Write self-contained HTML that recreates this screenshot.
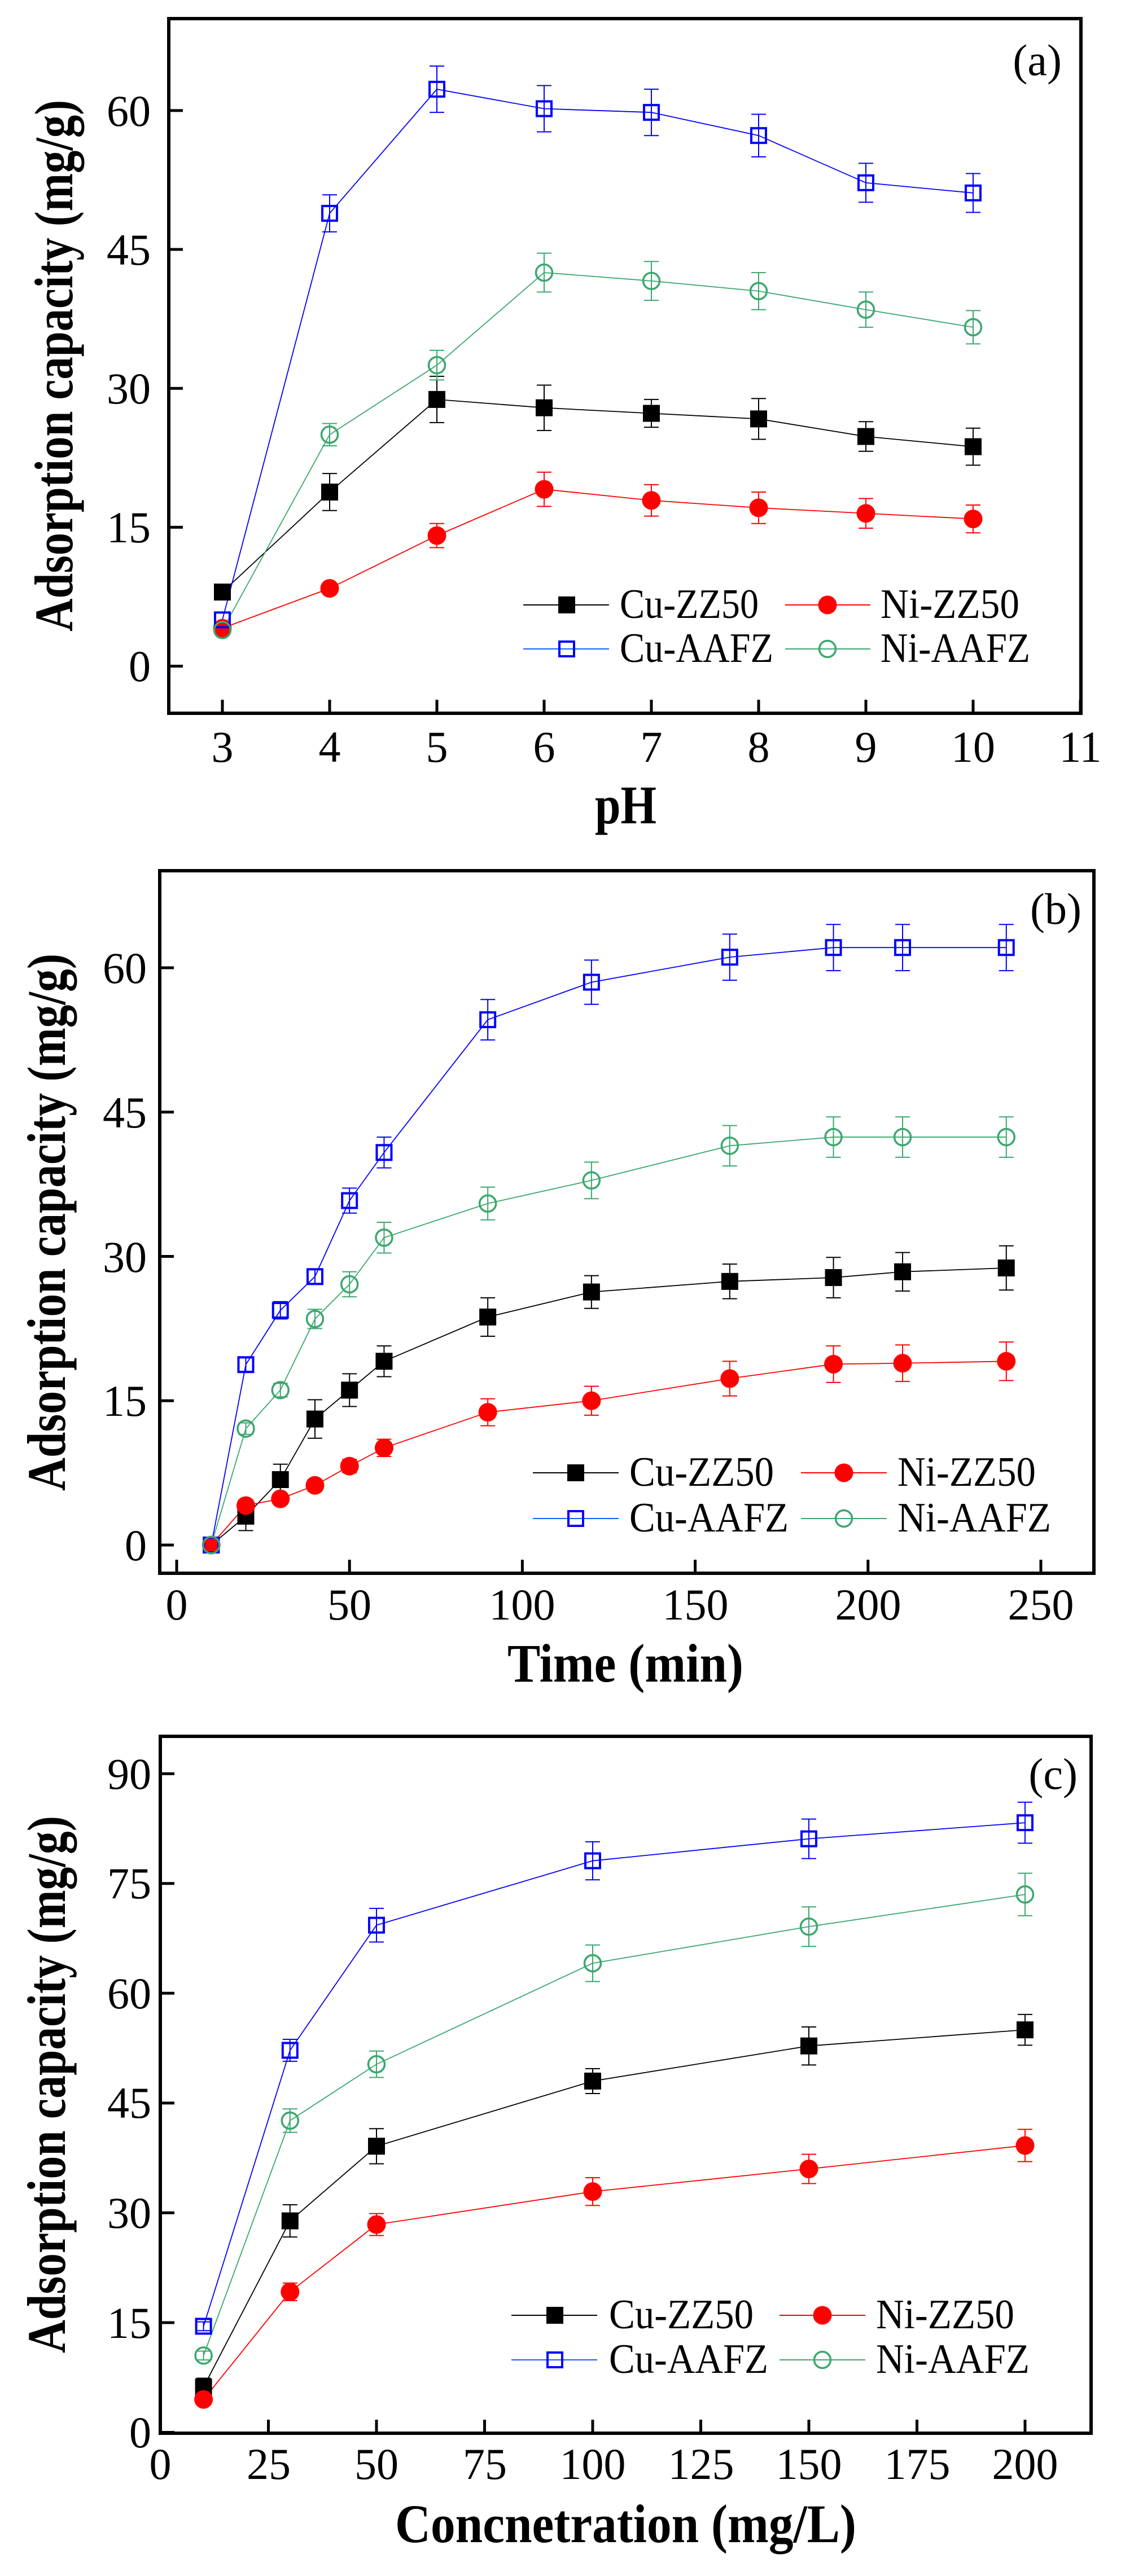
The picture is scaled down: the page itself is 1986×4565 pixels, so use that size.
<!DOCTYPE html>
<html><head><meta charset="utf-8"><style>
html,body{margin:0;padding:0;background:#fff}
svg{display:block}
text{font-family:"Liberation Serif","Times New Roman",serif;fill:#000}
.t{font-size:78px}
.lg{font-size:74px}
.ax{font-size:96px;font-weight:bold}
</style></head><body>
<svg id="s" xmlns="http://www.w3.org/2000/svg" width="1986" height="4565" viewBox="0 0 1986 4565" font-family="Liberation Serif, serif">
<rect width="1986" height="4565" fill="#fff"/>
<g id="g"></g>
<!-- Panel a text -->
<g class="t" text-anchor="end">
<text x="267" y="1207">0</text><text x="267" y="961">15</text><text x="267" y="715">30</text><text x="267" y="469">45</text><text x="267" y="223">60</text>
</g>
<g class="t" text-anchor="middle">
<text x="394" y="1350">3</text><text x="584" y="1350">4</text><text x="774" y="1350">5</text><text x="964" y="1350">6</text><text x="1154" y="1350">7</text><text x="1344" y="1350">8</text><text x="1534" y="1350">9</text><text x="1724" y="1350">10</text><text x="1914" y="1350">11</text>
</g>
<text class="t" x="1881" y="133" text-anchor="end" font-size="82">(a)</text>
<text class="ax" x="1054" y="1459" textLength="109" lengthAdjust="spacingAndGlyphs">pH</text>
<text class="ax" transform="translate(128,648) rotate(-90)" text-anchor="middle" textLength="942" lengthAdjust="spacingAndGlyphs">Adsorption capacity (mg/g)</text>
<g class="lg"><text x="1098" y="1095" textLength="246" lengthAdjust="spacingAndGlyphs">Cu-ZZ50</text><text x="1560" y="1095" textLength="246" lengthAdjust="spacingAndGlyphs">Ni-ZZ50</text><text x="1098" y="1173" textLength="272" lengthAdjust="spacingAndGlyphs">Cu-AAFZ</text><text x="1560" y="1173" textLength="265" lengthAdjust="spacingAndGlyphs">Ni-AAFZ</text></g>

<!-- Panel b text -->
<g class="t" text-anchor="end">
<text x="260" y="2765">0</text><text x="260" y="2509">15</text><text x="260" y="2254">30</text><text x="260" y="1998">45</text><text x="260" y="1742">60</text>
</g>
<g class="t" text-anchor="middle">
<text x="313" y="2870">0</text><text x="619" y="2870">50</text><text x="925" y="2870">100</text><text x="1232" y="2870">150</text><text x="1538" y="2870">200</text><text x="1844" y="2870">250</text>
</g>
<text class="t" x="1916" y="1637" text-anchor="end" font-size="82">(b)</text>
<text class="ax" x="899" y="2980" textLength="418" lengthAdjust="spacingAndGlyphs">Time (min)</text>
<text class="ax" transform="translate(115,2166) rotate(-90)" text-anchor="middle" textLength="952" lengthAdjust="spacingAndGlyphs">Adsorption capacity (mg/g)</text>
<g class="lg"><text x="1115" y="2633" textLength="256" lengthAdjust="spacingAndGlyphs">Cu-ZZ50</text><text x="1590" y="2633" textLength="245" lengthAdjust="spacingAndGlyphs">Ni-ZZ50</text><text x="1115" y="2714" textLength="282" lengthAdjust="spacingAndGlyphs">Cu-AAFZ</text><text x="1590" y="2714" textLength="272" lengthAdjust="spacingAndGlyphs">Ni-AAFZ</text></g>

<!-- Panel c text -->
<g class="t" text-anchor="end">
<text x="268" y="4337">0</text><text x="268" y="4143">15</text><text x="268" y="3948">30</text><text x="268" y="3753">45</text><text x="268" y="3559">60</text><text x="268" y="3364">75</text><text x="268" y="3170">90</text>
</g>
<g class="t" text-anchor="middle">
<text x="284" y="4393">0</text><text x="476" y="4393">25</text><text x="667" y="4393">50</text><text x="859" y="4393">75</text><text x="1050" y="4393">100</text><text x="1242" y="4393">125</text><text x="1433" y="4393">150</text><text x="1625" y="4393">175</text><text x="1816" y="4393">200</text>
</g>
<text class="t" x="1909" y="3170" text-anchor="end" font-size="82">(c)</text>
<text class="ax" x="700" y="4505" textLength="817" lengthAdjust="spacingAndGlyphs">Concnetration (mg/L)</text>
<text class="ax" transform="translate(115,3694) rotate(-90)" text-anchor="middle" textLength="952" lengthAdjust="spacingAndGlyphs">Adsorption capacity (mg/g)</text>
<g class="lg"><text x="1079" y="4126" textLength="256" lengthAdjust="spacingAndGlyphs">Cu-ZZ50</text><text x="1552" y="4126" textLength="245" lengthAdjust="spacingAndGlyphs">Ni-ZZ50</text><text x="1079" y="4205" textLength="282" lengthAdjust="spacingAndGlyphs">Cu-AAFZ</text><text x="1552" y="4205" textLength="272" lengthAdjust="spacingAndGlyphs">Ni-AAFZ</text></g>
</svg>
<script>
var NS="http://www.w3.org/2000/svg",G=document.getElementById("g");
function el(t,a){var e=document.createElementNS(NS,t);for(var k in a)e.setAttribute(k,a[k]);G.appendChild(e);return e;}
var COL={cz:"#000000",nz:"#ff0000",ca:"#0000ff",na:"#3aa76d"};
function marker(k,x,y){
 if(k=="cz")el("rect",{x:x-15,y:y-15,width:30,height:30,fill:"#000"});
 else if(k=="nz")el("circle",{cx:x,cy:y,r:16.5,fill:"#ff0000"});
 else if(k=="ca")el("rect",{x:x-13,y:y-13,width:26,height:26,fill:"none",stroke:"#0000ff","stroke-width":4});
 else el("circle",{cx:x,cy:y,r:14.5,fill:"none",stroke:"#3aa76d","stroke-width":3.5});
}
function panel(P){
 var X=function(v){return P.x0+P.xs*v},Y=function(v){return P.y0-P.ys*v};
 P.xt.forEach(function(v){el("line",{x1:X(v),x2:X(v),y1:P.B,y2:P.B-24,stroke:"#000","stroke-width":5});});
 P.yt.forEach(function(v){el("line",{x1:P.L,x2:P.L+25,y1:Y(v),y2:Y(v),stroke:"#000","stroke-width":5});});
 var order=["cz","nz","ca","na"];
 order.forEach(function(k){var d=P.d[k];
  var pts=P.x.map(function(v,i){return X(v)+","+Y(d[i][0])}).join(" ");
  el("polyline",{points:pts,fill:"none",stroke:COL[k],"stroke-width":1.8});
  P.x.forEach(function(v,i){var e=d[i][1];if(!e)return;var x=X(v),y1=Y(d[i][0]+e),y2=Y(d[i][0]-e);
   el("line",{x1:x,x2:x,y1:y1,y2:y2,stroke:COL[k],"stroke-width":2});
   el("line",{x1:x-13,x2:x+13,y1:y1,y2:y1,stroke:COL[k],"stroke-width":2});
   el("line",{x1:x-13,x2:x+13,y1:y2,y2:y2,stroke:COL[k],"stroke-width":2});});
 });
 order.forEach(function(k){var d=P.d[k];P.x.forEach(function(v,i){marker(k,X(v),Y(d[i][0]));});});
 var lg=P.lg;
 [["cz",0,0],["nz",1,0],["ca",0,1],["na",1,1]].forEach(function(a){
  var c=lg.c[a[1]],y=lg.r[a[2]];
  el("line",{x1:c[0],x2:c[1],y1:y,y2:y,stroke:a[0]=="ca"?"#1060ff":COL[a[0]],"stroke-width":2});
  marker(a[0],c[2],y);});
 el("rect",{x:P.L,y:P.T,width:P.R-P.L,height:P.B-P.T,fill:"none",stroke:"#000","stroke-width":6});
}
panel({L:299,R:1915,T:33,B:1264,x0:394-190*3,xs:190,y0:1180.5,ys:16.41,
 xt:[3,4,5,6,7,8,9,10,11],yt:[0,15,30,45,60],x:[3,4,5,6,7,8,9,10],
 d:{cz:[[8,0],[18.8,2],[28.8,2.5],[27.9,2.45],[27.3,1.5],[26.7,2.2],[24.8,1.6],[23.7,2]],
    nz:[[4.1,0],[8.4,0.5],[14.1,1.3],[19.1,1.85],[17.9,1.7],[17.1,1.7],[16.5,1.6],[15.9,1.5]],
    ca:[[5,0],[48.9,2],[62.3,2.5],[60.2,2.5],[59.8,2.5],[57.3,2.3],[52.2,2.1],[51.1,2.1]],
    na:[[3.9,0],[25,1.2],[32.5,1.6],[42.5,2.1],[41.6,2.1],[40.5,2],[38.5,1.9],[36.6,1.8]]},
 lg:{c:[[927,1079,1004],[1391,1542,1466]],r:[1072,1150]}});
panel({L:283,R:1938,T:1543,B:2788,x0:313,xs:6.124,y0:2738,ys:17.05,
 xt:[0,50,100,150,200,250],yt:[0,15,30,45,60],x:[10,20,30,40,50,60,90,120,160,190,210,240],
 d:{cz:[[0,0],[3,1.5],[6.8,1.6],[13.1,2],[16.1,1.7],[19.1,1.6],[23.7,2],[26.3,1.7],[27.4,1.8],[27.8,2.1],[28.4,2],[28.8,2.3]],
    nz:[[0,0],[4.1,0.6],[4.8,0.5],[6.2,0.6],[8.2,0.7],[10.1,0.9],[13.8,1.4],[15,1.5],[17.3,1.8],[18.8,1.9],[18.9,1.9],[19.1,2]],
    ca:[[0,0],[18.75,0.7],[24.4,0.9],[27.9,0.8],[35.8,1.3],[40.8,1.6],[54.6,2.1],[58.5,2.3],[61.1,2.4],[62.1,2.4],[62.1,2.4],[62.1,2.4]],
    na:[[0,0],[12.1,0.6],[16.1,0.7],[23.5,1],[27.1,1.3],[31.95,1.6],[35.5,1.7],[37.9,1.9],[41.5,2.1],[42.4,2.1],[42.4,2.1],[42.4,2.1]]},
 lg:{c:[[944,1096,1020],[1419,1571,1495]],r:[2610,2691]}});
panel({L:284,R:1933,T:3077,B:4312,x0:284,xs:7.66,y0:4310.5,ys:12.97,
 xt:[25,50,75,100,125,150,175,200],yt:[0,15,30,45,60,75,90],x:[10,30,50,100,150,200],
 d:{cz:[[6.2,1.2],[28.9,2.2],[39.1,2.4],[48,1.7],[52.8,2.6],[55,2.1]],
    nz:[[4.5,0.5],[19.2,1.2],[28.4,1.5],[32.9,1.9],[36,2],[39.2,2.2]],
    ca:[[14.5,0.6],[52.2,1.5],[69.3,2.3],[78.1,2.6],[81.1,2.7],[83.3,2.8]],
    na:[[10.5,0.6],[42.6,1.6],[50.3,1.8],[64.1,2.5],[69.1,2.7],[73.5,2.9]]},
 lg:{c:[[906,1058,983],[1381,1533,1457]],r:[4103,4182]}});
</script>
</body></html>
